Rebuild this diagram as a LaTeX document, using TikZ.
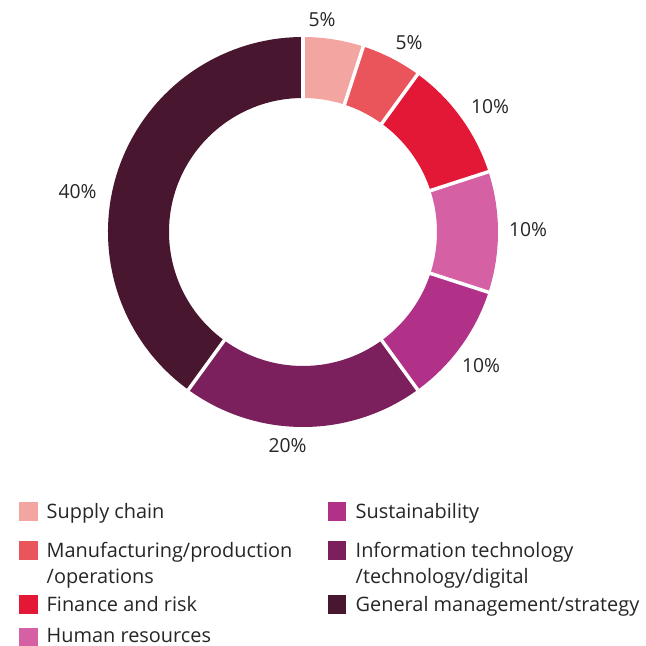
\documentclass[tikz,border=0pt]{standalone}
\usepackage{fontspec}
\setmainfont{Open Sans}
\definecolor{cSupply}{HTML}{F3A5A2}
\definecolor{cManu}{HTML}{EA545B}
\definecolor{cFin}{HTML}{E31837}
\definecolor{cHR}{HTML}{D560A3}
\definecolor{cSus}{HTML}{B03187}
\definecolor{cIT}{HTML}{7B1F5D}
\definecolor{cGM}{HTML}{48162F}
\definecolor{cText}{HTML}{262626}
\newcommand\ringslice[3]{\fill[#3] (#1:195pt) arc[start angle=#1, end angle=#2, radius=195pt] -- (#2:134pt) arc[start angle=#2, end angle=#1, radius=134pt] -- cycle;}
\tikzset{
  pct/.style={font=\fontsize{19.3}{22}\selectfont, text=cText, inner sep=0pt},
  legtext/.style={font=\fontsize{19.9}{22}\selectfont, text=cText, inner sep=0pt, anchor=base west},
  legbox/.style={minimum size=18.5pt, inner sep=0pt, anchor=north west}
}
\begin{document}
\begin{tikzpicture}[x=1pt,y=1pt]
\useasboundingbox (0,0) rectangle (646,646);
\fill[white] (0,0) rectangle (646,646);
\begin{scope}[shift={(303,414)}]
\ringslice{90}{72}{cSupply}
\ringslice{72}{54}{cManu}
\ringslice{54}{18}{cFin}
\ringslice{18}{-18}{cHR}
\ringslice{-18}{-54}{cSus}
\ringslice{-54}{-126}{cIT}
\ringslice{-126}{-270}{cGM}
\foreach \a in {90,72,54,18,-18,-54,-126}
  \draw[white, line width=3.5pt] (\a:128pt) -- (\a:200pt);
\end{scope}
% percentage labels
\node[pct] (p1) at (322,626) {5\%};
\node[pct] (p2) at (409,603.5) {5\%};
\node[pct] (p3) at (490,539) {10\%};
\node[pct] (p4) at (528,416.5) {10\%};
\node[pct] (p5) at (481,280) {10\%};
\node[pct] (p6) at (287.5,200) {20\%};
\node[pct] (p7) at (77.5,454) {40\%};
% legend boxes
\node[legbox, fill=cSupply] (b1) at (19,143.7) {};
\node[legbox, fill=cManu] (b2) at (19,105) {};
\node[legbox, fill=cFin] (b3) at (19,51) {};
\node[legbox, fill=cHR] (b4) at (19,18.5) {};
\node[legbox, fill=cSus] (b5) at (327.5,143.7) {};
\node[legbox, fill=cIT] (b6) at (327.5,105) {};
\node[legbox, fill=cGM] (b7) at (327.5,51) {};
% legend texts
\node[legtext] (t1) at (46.5,127.7) {Supply chain};
\node[legtext] (t2a) at (46.5,88.3) {Manufacturing/production};
\node[legtext] (t2b) at (46.5,62.7) {/operations};
\node[legtext] (t3) at (46.5,34.3) {Finance and risk};
\node[legtext] (t4) at (46.5,3.5) {Human resources};
\node[legtext] (t5) at (355.5,127.7) {Sustainability};
\node[legtext] (t6a) at (355.5,88.3) {Information technology};
\node[legtext] (t6b) at (355.5,62.7) {/technology/digital};
\node[legtext] (t7) at (355.5,34.3) {General management/strategy};
\end{tikzpicture}
\end{document}
